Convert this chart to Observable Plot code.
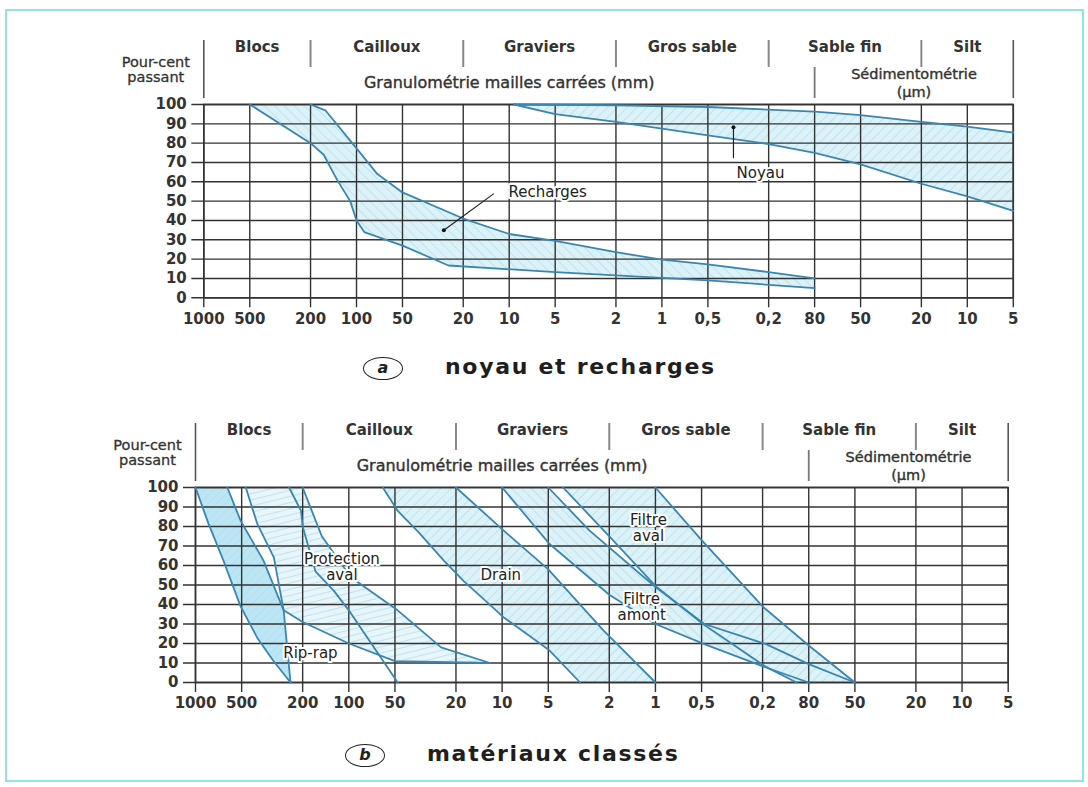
<!DOCTYPE html>
<html><head><meta charset="utf-8">
<script src="https://cdn.jsdelivr.net/npm/d3@7"></script>
<script src="https://cdn.jsdelivr.net/npm/@observablehq/plot@0.6"></script>
<style>
html,body{margin:0;padding:0;background:#fff;}
body{width:1088px;height:787px;position:relative;overflow:hidden;font-family:"DejaVu Sans",sans-serif;color:#222;}
#border{position:absolute;left:5px;top:9px;width:1079px;height:773px;border:2px solid #93e1e9;box-sizing:border-box;}
.chart{position:absolute;left:0;}
.circ{position:absolute;border:1.6px solid #222;border-radius:50%;box-sizing:border-box;font-weight:bold;font-style:italic;font-size:16px;text-align:center;}
.capt{position:absolute;font-weight:bold;font-size:22px;letter-spacing:1.7px;white-space:nowrap;color:#1e1e1e;}
</style></head><body>
<div id="border"></div>
<div id="chartA" class="chart" style="top:30px"></div>
<div class="circ" style="left:363px;top:357px;width:40px;height:23px;line-height:20px;">a</div>
<div class="capt" style="left:445px;top:354px;">noyau et recharges</div>
<div id="chartB" class="chart" style="top:413px"></div>
<div class="circ" style="left:345px;top:744px;width:40px;height:23px;line-height:20px;">b</div>
<div class="capt" style="left:427px;top:741px;">matériaux classés</div>
<script>
// ---------------- DATA ----------------
// particle size (mm) on a reversed log axis; the line labelled "80" (µm) is drawn at the 0.1 mm position in the reference
const xTicks = [1000, 500, 200, 100, 50, 20, 10, 5, 2, 1, 0.5, 0.2, 0.1, 0.05, 0.02, 0.01, 0.005];
const xTickLabels = ["1000","500","200","100","50","20","10","5","2","1","0,5","0,2","80","50","20","10","5"];
const yTicks = [0,10,20,30,40,50,60,70,80,90,100];
const yLabelLines = ["Pour-cent", "passant"];
const classNames = ["Blocs", "Cailloux", "Graviers", "Gros sable", "Sable fin", "Silt"];
const classBounds = [1000, 200, 20, 2, 0.2, 0.02, 0.005];
const sieveTitle = "Granulométrie mailles carrées (mm)";
const sedimTitle = ["Sédimentométrie", "(µm)"];
const sedimBound = 0.1;

// (a) noyau et recharges : [size mm, % passing]
const rechargesCoarse = [[500,100],[200,80],[164,74],[134,61],[110,50],[100,40],[89,34],[50,27],[25,16.7],[5,13.3],[0.5,9],[0.1,5]];
const rechargesFine = [[200,100],[160,97],[104,79],[73,64],[50,54.5],[20,41],[10,33],[5,29.5],[2,23.6],[1,19.7],[0.5,17.3],[0.2,13.3],[0.1,10]];
const noyauUpper = [[9.3,100],[2,99.6],[0.5,98.7],[0.1,96.3],[0.05,94.5],[0.02,91],[0.01,88.5],[0.005,85.5]];
const noyauLower = [[9.3,100],[5,95],[2,91],[1,87.5],[0.5,84],[0.2,79.5],[0.1,75],[0.05,69],[0.02,59],[0.01,52.5],[0.005,45]];
const labelsA = [
  {text:"Recharges", d:5.6, p:54.6},
  {text:"Noyau", d:0.226, p:64.9}
];
const leadersA = [
  {d1:26.8, p1:34.9, d2:12.6, p2:53.9},
  {d1:0.34, p1:88.2, d2:0.34, p2:72.2}
];

// (b) matériaux classés
const ripRapCoarse = [[1000,100],[823,81.5],[657,62.5],[508,39],[396,23],[310,11],[240,0]];
const ripRapFine = [[620,100],[508,83],[360,62.5],[266,37],[240,0]];
const protCoarse = [[470,100],[396,81.5],[308,64],[266,37],[200,31],[100,20],[50,11],[12,10]];
const protMid = [[245,100],[205,88],[200,80],[165,57],[125,47],[100,37],[48,0]];
const protFine = [[200,100],[150,75],[97,54],[48,37],[25,18],[12,10]];
const drainCoarse = [[60,100],[48,88],[35,77],[24,62.5],[17.8,52],[9.8,33.5],[4.9,16.4],[3.1,0]];
const drainFine = [[20,100],[9.8,78],[5,58],[2.2,27],[1,0]];
const filtreAmontCoarse = [[10,100],[4.9,71],[2,45],[1,30],[0.48,19.7],[0.19,7.7],[0.1,0]];
const filtreAmontFine = [[5,100],[2.7,78],[1,49],[0.48,30],[0.19,19.7],[0.1,9.4],[0.05,0]];
const filtreAvalCoarse = [[4,100],[1.95,74],[1,49.5],[0.49,30],[0.19,8],[0.12,0]];
const filtreAvalFine = [[1,100],[0.5,73],[0.2,39],[0.1,19],[0.05,0]];
const labelsB = [
  {text:"Protection\naval", d:111, p:59.5},
  {text:"Drain", d:10.2, p:55},
  {text:"Rip-rap", d:178, p:15},
  {text:"Filtre\naval", d:1.11, p:79.5},
  {text:"Filtre\namont", d:1.23, p:39}
];

// ---------------- DRAWING ----------------
const BLUE = "#3a86b0";
const GRID = "#333";
const labelMap = new Map(xTicks.map((t,i)=>[t, xTickLabels[i]]));

function patternDefs(key){
  return `<defs>
  <pattern id="${key}-diagA" patternUnits="userSpaceOnUse" width="7" height="7" patternTransform="rotate(45)">
    <rect width="7" height="7" fill="#dcf2f9"/><line x1="0" y1="0" x2="0" y2="7" stroke="#abd6e4" stroke-width="1.1"/></pattern>
  <pattern id="${key}-diagB" patternUnits="userSpaceOnUse" width="7" height="7" patternTransform="rotate(-45)">
    <rect width="7" height="7" fill="#dcf2f9"/><line x1="0" y1="0" x2="0" y2="7" stroke="#abd6e4" stroke-width="1.1"/></pattern>
  <pattern id="${key}-horiz" patternUnits="userSpaceOnUse" width="7" height="6" patternTransform="rotate(-14)">
    <rect width="7" height="6" fill="#e6f6fb"/><line x1="0" y1="0" x2="7" y2="0" stroke="#a3cddd" stroke-width="1"/></pattern>
  <pattern id="${key}-solid" patternUnits="userSpaceOnUse" width="6" height="6" patternTransform="rotate(45)">
    <rect width="6" height="6" fill="#bde6f4"/><line x1="0" y1="0" x2="0" y2="6" stroke="#a6d9ea" stroke-width="1"/></pattern>
  </defs>`;
}

function chart(cfg){
  const H = cfg.plotH, mt = 74, mb = 38;
  const W = cfg.right - cfg.left;
  const ppd = W / Math.log10(1000 / 0.005);            // pixels per decade
  const u = px => 100 + px * 100 / H;                  // offset above the 100 % line
  const below = px => -px * 100 / H;                   // offset below the 0 % line
  const leftOf = px => 1000 * Math.pow(10, px / ppd);  // offset left of the 1000 mm line
  const poly = b => [...b.a.map(([d,p])=>({d,p})), ...b.b.slice().reverse().map(([d,p])=>({d,p}))];
  const lines = cfg.curves.flatMap((c,i)=>c.map(([d,p])=>({id:i,d,p})));
  const font = {fontFamily:"DejaVu Sans", fill:"#333"};
  const marks = [
    ...cfg.bands.map(b => Plot.line(poly(b), {x:"d", y:"p", fill:`url(#${cfg.key}-${b.pattern})`, stroke:"none"})),
    // grid + ticks
    Plot.ruleX(xTicks, {x:d=>d, y1:below(10), y2:100, stroke:GRID, strokeWidth:1.4}),
    Plot.ruleY(yTicks, {y:d=>d, x1:leftOf(12), x2:xTicks[xTicks.length-1], stroke:GRID, strokeWidth:1.4}),
    Plot.frame({stroke:GRID, strokeWidth:1.6}),
    Plot.text(xTicks, {x:d=>d, y:0, dy:21, text:d=>labelMap.get(d), fontSize:15, fontWeight:"bold", ...font}),
    Plot.text(yTicks, {x:xTicks[0], y:d=>d, dx:-17, textAnchor:"end", text:d=>String(d), fontSize:15, fontWeight:"bold", ...font}),
    Plot.line(lines, {x:"d", y:"p", z:"id", stroke:BLUE, strokeWidth:1.8}),
    // header
    Plot.ruleX([classBounds[0], classBounds[classBounds.length-1]], {x:d=>d, y1:u(6), y2:u(64), stroke:"#555", strokeWidth:1.6}),
    Plot.ruleX(classBounds.slice(1,-1), {x:d=>d, y1:u(37), y2:u(64), stroke:"#888", strokeWidth:2}),
    Plot.ruleX([sedimBound], {x:d=>d, y1:u(6), y2:u(37), stroke:"#777", strokeWidth:1.8}),
    Plot.text(classNames, {x:(d,i)=>Math.sqrt(classBounds[i]*classBounds[i+1]), y:u(57), text:d=>d, fontSize:15, fontWeight:"bold", ariaLabel:"hdr-class", ...font}),
    Plot.text([sieveTitle], {x:Math.sqrt(classBounds[0]*sedimBound), y:u(22), text:d=>d, fontSize:16, ariaLabel:"hdr-sieve", stroke:"#333", strokeWidth:0.4, ...font}),
    Plot.text(sedimTitle, {x:Math.sqrt(sedimBound*classBounds[classBounds.length-1]), y:(d,i)=>u(i?12:30), text:d=>d, fontSize:14.5, ariaLabel:"hdr-sedim", stroke:"#333", strokeWidth:0.4, ...font}),
    Plot.text(yLabelLines, {x:xTicks[0], y:(d,i)=>u(i?27:42), dx:-48, textAnchor:"middle", text:d=>d, fontSize:14.5, stroke:"#333", strokeWidth:0.3, ...font}),
    // annotations
    Plot.text(cfg.labels, {x:"d", y:"p", text:"text", fontSize:15, lineHeight:1.08, stroke:"white", strokeWidth:4, ariaLabel:"annot", ...font, fill:"#222"})
  ];
  if (cfg.leaders) {
    marks.push(Plot.link(cfg.leaders, {x1:"d1", y1:"p1", x2:"d2", y2:"p2", stroke:"#222", strokeWidth:1.2}));
    marks.push(Plot.dot(cfg.leaders, {x:"d1", y:"p1", r:2, fill:"#111", stroke:"none"}));
  }
  const svg = Plot.plot({
    width:1088, height: mt + H + mb,
    marginTop: mt, marginBottom: mb, marginLeft: cfg.left, marginRight: 1088 - cfg.right,
    x:{type:"log", domain:[1000, 0.005], axis:null},
    y:{domain:[0,100], axis:null},
    style:{background:"transparent", overflow:"visible"},
    marks
  });
  svg.insertAdjacentHTML("afterbegin", patternDefs(cfg.key));
  const spacing = {"hdr-class":"2px", "hdr-sieve":"3.8px", "hdr-sedim":"3.3px", "annot":"2.4px"};
  for (const [k, v] of Object.entries(spacing))
    svg.querySelectorAll(`g[aria-label="${k}"] text`).forEach(t=>t.style.letterSpacing=v);
  return svg;
}

document.getElementById("chartA").append(chart({
  key:"a", plotH:193.3, left:203.3, right:1012.8,
  curves:[rechargesCoarse, rechargesFine, noyauUpper, noyauLower],
  bands:[{a:rechargesCoarse, b:rechargesFine, pattern:"diagB"}, {a:noyauUpper, b:noyauLower, pattern:"diagA"}],
  labels:labelsA, leaders:leadersA
}));
document.getElementById("chartB").append(chart({
  key:"b", plotH:195, left:195, right:1007.7,
  curves:[ripRapCoarse, ripRapFine, protCoarse, protMid, protFine, drainCoarse, drainFine, filtreAmontCoarse, filtreAmontFine, filtreAvalCoarse, filtreAvalFine],
  bands:[
    {a:ripRapCoarse, b:ripRapFine, pattern:"solid"},
    {a:protCoarse, b:protFine, pattern:"horiz"},
    {a:drainCoarse, b:drainFine, pattern:"diagA"},
    {a:filtreAmontCoarse, b:filtreAmontFine, pattern:"diagB"},
    {a:filtreAvalCoarse, b:filtreAvalFine, pattern:"diagA"}
  ],
  labels:labelsB
}));
</script>
</body></html>
